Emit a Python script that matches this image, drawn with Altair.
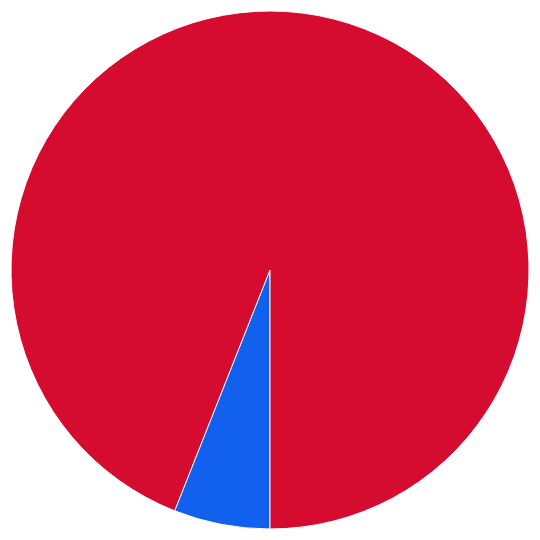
import math
import altair as alt
import pandas as pd

categories = ["Blue", "Red"]
values = [6.0, 94.0]
colors = ["#1160EE", "#D50C2F"]

df = pd.DataFrame({"category": categories, "value": values, "order": [0, 1]})

chart = alt.Chart(df).mark_arc(radius=259, stroke="white", strokeWidth=1).encode(
    theta=alt.Theta("value:Q", stack=True, scale=alt.Scale(range=[math.pi, 3 * math.pi])),
    color=alt.Color("category:N", scale=alt.Scale(domain=categories, range=colors), legend=None),
    order=alt.Order("order:Q"),
).properties(
    width=524, height=524, padding=0, autosize=alt.AutoSizeParams(type="none")
).configure_view(stroke=None)

chart.save("out.html", embed_options={"renderer": "svg", "actions": False})
